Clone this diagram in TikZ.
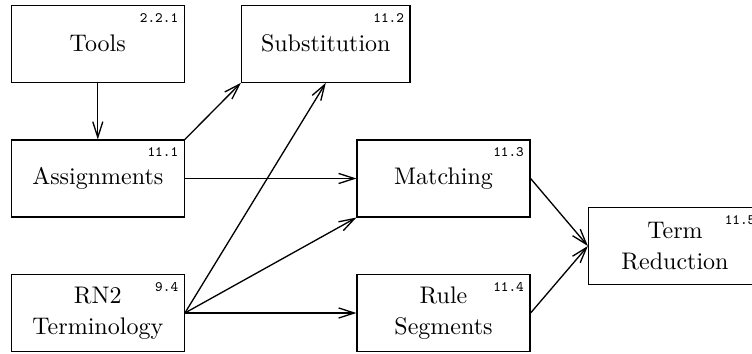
\documentclass[tikz,border=0pt]{standalone}
\usetikzlibrary{arrows.meta}
\begin{document}
\begin{tikzpicture}[x=0.4165pt,y=-0.4165pt,
  box/.style={draw,line width=0.55pt,minimum width=72pt,minimum height=32pt,inner sep=0pt,align=center,font=\fontsize{10}{13}\selectfont},
  num/.style={anchor=north east,inner sep=0pt,font=\fontsize{6}{7}\selectfont\ttfamily},
  arr/.style={-{Straight Barb[length=6.5pt,width=4.2pt]},line width=0.55pt}]
\useasboundingbox (0,0) rectangle (752,354);
\node[box] (tools) at (97.8,43.8) {Tools};
\node[box,minimum width=70.2pt] (subst) at (325.8,43.8) {Substitution};
\node[box] (assign) at (97.8,178.5) {Assignments};
\node[box] (match) at (443.5,178.5) {Matching};
\node[box] (rn2) at (97.8,313) {RN2\\Terminology};
\node[box] (rule) at (443.5,313) {Rule\\Segments};
\node[box] (term) at (675,246) {Term\\Reduction};
\foreach \n/\t in {tools/2.2.1,subst/11.2,assign/11.1,match/11.3,rn2/9.4,rule/11.4,term/11.5}
  \node[num] (\n-num) at ([xshift=-2.6pt,yshift=-3.3pt]\n.north east) {\t};
\draw[arr] (tools) -- (assign);
\draw[arr] (assign.north east) -- (subst.south west);
\draw[arr] (assign) -- (match);
\draw[arr] (rn2.east) -- (subst.south);
\draw[arr] (rn2.east) -- (match.south west);
\draw[arr] (rn2.east) -- (rule.west);
\draw[arr] (match.east) -- (term.west);
\draw[arr] (rule.east) -- (term.west);
\end{tikzpicture}
\end{document}
